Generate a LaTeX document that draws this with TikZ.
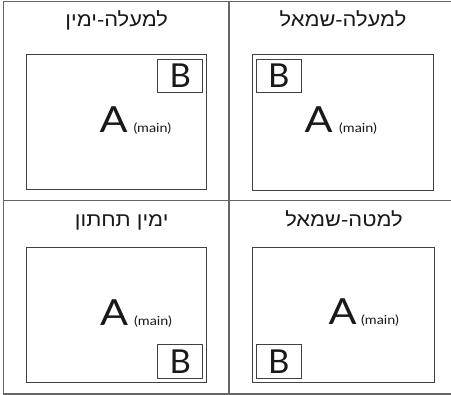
\documentclass[tikz,border=0pt]{standalone}
\usepackage{fontspec}
\setmainfont{Lato}
\newfontfamily\hebfont[Script=Hebrew,FakeStretch=1.12]{Liberation Sans}
\newfontfamily\lblfont[FakeStretch=1.15]{Lato}
\newfontfamily\bigfont[FakeStretch=1.15]{Lato}
\TeXXeTstate=1
\begin{document}
\begin{tikzpicture}[x=1pt,y=-1pt,
  grid/.style={draw=black!60,line width=1.1pt},
  screen/.style={draw=black!75,line width=1pt},
  title/.style={anchor=base,inner sep=0pt,font=\hebfont\fontsize{19.5}{22}\selectfont,text=black!90},
  bigA/.style={anchor=base west,inner sep=0pt,font=\bigfont\fontsize{36}{38}\selectfont,text=black!90},
  mainlbl/.style={anchor=base west,inner sep=0pt,font=\lblfont\fontsize{12.5}{14}\selectfont,text=black!90},
  bbox/.style={draw=black!75,line width=1pt,inner sep=0pt,font=\fontsize{33}{35}\selectfont,text=black!90}]
\useasboundingbox (0,0) rectangle (451,395);
% grid
\coordinate (tl) at (3.5,1.5);
\coordinate (tr) at (451,1.5);
\coordinate (bl) at (3.5,394);
\coordinate (br) at (451,394);
\coordinate (mt) at (229,1.5);
\coordinate (mb) at (229,394);
\coordinate (ml) at (3.5,200.5);
\coordinate (mr) at (451,200.5);
\draw[grid] (tr) -- (tl) -- (bl) -- (br);
\draw[grid] (mt) -- (mb);
\draw[grid] (ml) -- (mr);
% top-left cell
\node[title] (t1) at (116.7,26.3) {\beginR למעלה-ימין\endR};
\draw[screen] (26.7,55) rectangle (206.7,190);
\node[bbox,minimum width=45pt,minimum height=33.4pt] (b1) at (180.2,76) {B};
\node[bigA] (a1) at (99.5,133) {A};
\node[mainlbl] (m1) at (133.3,133) {(main)};
% top-right cell
\node[title] (t2) at (343,26.3) {\beginR למעלה-שמאל\endR};
\draw[screen] (252.3,55) rectangle (433.3,190.7);
\node[bbox,minimum width=45.7pt,minimum height=33.4pt] (b2) at (278.85,76) {B};
\node[bigA] (a2) at (304.5,133) {A};
\node[mainlbl] (m2) at (339,133) {(main)};
% bottom-left cell
\node[title] (t3) at (121.7,226.7) {\beginR ימין תחתון\endR};
\draw[screen] (26.7,247.3) rectangle (206.7,382.3);
\node[bbox,minimum width=45pt,minimum height=34pt] (b3) at (180.2,361.3) {B};
\node[bigA] (a3) at (100,325.7) {A};
\node[mainlbl] (m3) at (134,325.7) {(main)};
% bottom-right cell
\node[title] (t4) at (344,226.7) {\beginR למטה-שמאל\endR};
\draw[screen] (252.3,247.3) rectangle (434,382.3);
\node[bbox,minimum width=45.7pt,minimum height=34pt] (b4) at (278.85,362) {B};
\node[bigA] (a4) at (328.5,325) {A};
\node[mainlbl] (m4) at (361,325) {(main)};
\end{tikzpicture}
\end{document}
